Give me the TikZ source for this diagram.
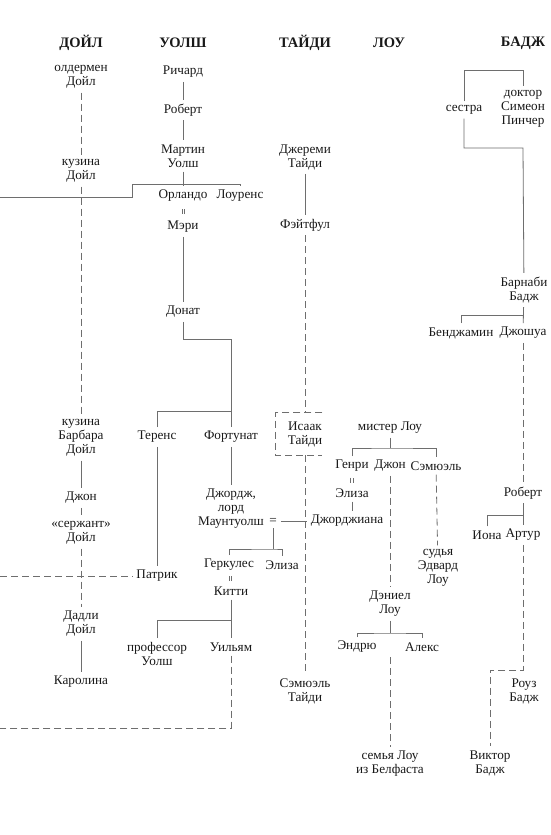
\documentclass[tikz,border=0pt]{standalone}
\usepackage{fontspec}
\setmainfont{Liberation Serif}
\usetikzlibrary{calc}
\definecolor{linegray}{RGB}{110,110,110}
\definecolor{inkgray}{RGB}{25,25,25}

\begin{document}
\begin{tikzpicture}[
    x=1pt, y=-1pt,
    every node/.style={font=\fontsize{13.2}{14}\selectfont, text=inkgray},
    person/.style={align=center, inner sep=4pt},
    family/.style={font=\fontsize{14.5}{16}\selectfont\bfseries},
    kin/.style={draw=linegray, line width=0.8pt},
    dkin/.style={kin, dash pattern=on 7pt off 4pt},
    wed/.style={draw=linegray, line width=0.7pt}
]
\fill[white] (0,0) rectangle (550,835);
\useasboundingbox (0,0) rectangle (550,835);

\node[family] (doyleH) at (81,43) {ДОЙЛ};
\node[family] (walshH) at (183,43) {УОЛШ};
\node[family] (tideyH) at (305,43) {ТАЙДИ};
\node[family] (lowH) at (389,43) {ЛОУ};
\node[family] (budgeH) at (523,43) {БАДЖ};

\node[person] (alderman) at (81,77) {олдермен\\Дойл};
\node[person] (cousinD) at (81,171) {кузина\\Дойл};
\node[person] (barbara) at (81,438) {кузина\\Барбара\\Дойл};
\node[person] (johnD) at (81,498) {Джон};
\node[person] (sergeant) at (81,533) {«сержант»\\Дойл};
\node[person] (dudley) at (81,624) {Дадли\\Дойл};
\node[person] (caroline) at (81,682) {Каролина};

\node[person] (richard) at (183,72) {Ричард};
\node[person] (robert) at (183,110) {Роберт};
\node[person] (martin) at (183,156) {Мартин\\Уолш};
\node[person] (orlando) at (183,196) {Орландо};
\node[person] (lawrence) at (240,196) {Лоуренс};
\node[person] (mary) at (183,227) {Мэри};
\node[person] (donat) at (183,312) {Донат};
\node[person] (terence) at (157,437) {Теренс};
\node[person] (fortunatus) at (231,437) {Фортунат};
\node[person] (george) at (231,509) {Джордж,\\лорд\\Маунтуолш};
\node[person] (marriageG) at (273,521) {=};
\node[person] (patrick) at (157,576) {Патрик};
\node[person] (hercules) at (229,565) {Геркулес};
\node[person] (elizaW) at (282,565) {Элиза};
\node[person] (kitty) at (231,591) {Китти};
\node[person] (professor) at (157,654) {профессор\\Уолш};
\node[person] (william) at (231,647) {Уильям};

\node[person] (jeremy) at (305,157) {Джереми\\Тайди};
\node[person] (faithful) at (305,225) {Фэйтфул};
\node[person, inner sep=0pt, minimum width=34pt, minimum height=42pt] (isaac) at (305,434) {Исаак\\Тайди};
\node[person] (samuelT) at (305,691) {Сэмюэль\\Тайди};

\node[person] (mrLow) at (390,428) {мистер Лоу};
\node[person] (henry) at (352,466) {Генри};
\node[person] (johnL) at (390,466) {Джон};
\node[person] (samuelL) at (436,466) {Сэмюэль};
\node[person] (elizaL) at (352,493) {Элиза};
\node[person] (georgiana) at (347,521) {Джорджиана};
\node[person] (edward) at (438,568) {судья\\Эдвард\\Лоу};
\node[person] (daniel) at (390,604) {Дэниел\\Лоу};
\node[person] (andrew) at (357,647) {Эндрю};
\node[person] (alex) at (422,647) {Алекс};
\node[person] (belfast) at (390,764) {семья Лоу\\из Белфаста};

\node[person] (sister) at (464,110) {сестра};
\node[person] (pincher) at (523,109) {доктор\\Симеон\\Пинчер};
\node[person] (barnaby) at (524,290) {Барнаби\\Бадж};
\node[person] (benjamin) at (461,333) {Бенджамин};
\node[person] (joshua) at (523,333) {Джошуа};
\node[person] (robertB) at (523,493) {Роберт};
\node[person] (jonah) at (487,535) {Иона};
\node[person] (arthur) at (523,535) {Артур};
\node[person] (rose) at (524,691) {Роуз\\Бадж};
\node[person] (victor) at (490,763) {Виктор\\Бадж};

\coordinate (offW) at (0,197);
\coordinate (walshL) at (132,184);
\coordinate (donatJ) at (231,339);
\coordinate (donatK) at (231,411);
\coordinate (georgeK) at (273,549);
\coordinate (kittyK) at (231,620);
\coordinate (offP) at (0,576);
\coordinate (offS) at (0,728);
\coordinate (lowK) at (390,448);
\coordinate (danielK) at (390,633);
\coordinate (belfastTop) at (390,657);
\coordinate (budgeTop) at (523,70);
\coordinate (budgeMid) at (523,148);
\coordinate (barnabyK) at (523,315);
\coordinate (robertK) at (523,515);
\coordinate (arthurK) at (523,670);

\draw[dkin] (alderman) -- (cousinD);
\draw[dkin] (cousinD) -- (barbara);
\draw[kin] (barbara) -- (johnD);
\draw[dkin] (johnD) -- (sergeant);
\draw[dkin] (sergeant) -- (dudley);
\draw[kin] (dudley) -- (caroline);

\draw[kin] (richard) -- (robert);
\draw[kin] (robert) -- (martin);
\draw[kin] (martin) -- (orlando);
\draw[kin] (offW) -| (walshL) -| (lawrence);
\draw[wed] ($(orlando.south)!.5!(mary.north)+(-0.9,-2.5)$) -- ++(0,5) ++(1.8,0) -- ++(0,-5);
\draw[kin] (mary) -- (donat);
\draw[kin] (donat) |- (donatJ) -- (fortunatus);
\draw[kin] (terence) |- (donatK);
\draw[kin] (terence) -- (patrick);
\draw[dkin] (offP) -- (patrick);
\draw[kin] (fortunatus) -- (george);
\draw[kin] (marriageG) -- (georgiana);
\draw[kin] (marriageG) -- (georgeK);
\draw[kin] (hercules) |- (georgeK) -| (elizaW);
\draw[wed] ($(hercules.south)!.5!(kitty.north)+(-0.9,-2.5)$) -- ++(0,5) ++(1.8,0) -- ++(0,-5);
\draw[kin] (kitty) -- (william);
\draw[kin] (professor) |- (kittyK);
\draw[dkin] (william) |- (offS);

\draw[kin] (jeremy) -- (faithful);
\draw[dkin] (faithful) -- (isaac);
\draw[dkin] (isaac.north east) -- ([xshift=-12pt]isaac.north west) -- ([xshift=-12pt]isaac.south west) -- (isaac.south east);
\draw[dkin] (isaac) -- (samuelT);

\draw[kin] (mrLow) -- (lowK);
\draw[kin] (henry) |- (lowK) -| (samuelL);
\draw[wed] ($(henry.south)!.5!(elizaL.north)+(-1.3,-2.5)$) -- ++(0,5) ++(2.6,0) -- ++(0,-5);
\draw[kin] (elizaL) -- (elizaL |- georgiana.north);
\draw[dkin] (johnL) -- (daniel);
\draw[dkin] (samuelL) -- (edward);
\draw[kin] (daniel) -- (danielK);
\draw[kin] (andrew) |- (danielK) -| (alex);
\draw[dkin] (belfastTop) -- (belfast);

\draw[kin] (sister) |- (budgeTop) -- (pincher);
\draw[kin] (sister) |- (budgeMid) -- (barnaby);
\draw[kin] (barnaby) -- (joshua);
\draw[kin] (benjamin) |- (barnabyK);
\draw[dkin] (joshua) -- (robertB);
\draw[kin] (robertB) -- (arthur);
\draw[kin] (jonah) |- (robertK);
\draw[dkin] (arthur) -- (arthurK) -| (victor);
\end{tikzpicture}
\end{document}
